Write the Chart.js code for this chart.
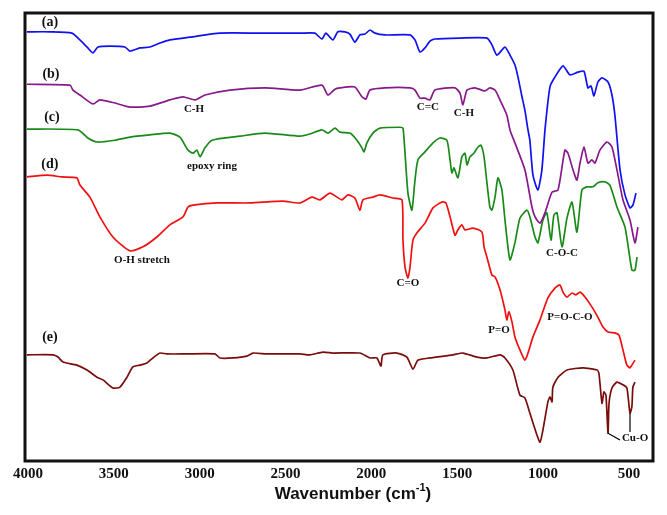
<!DOCTYPE html>
<html>
<head>
<meta charset="utf-8">
<script src="https://cdn.jsdelivr.net/npm/chart.js@4.4.1/dist/chart.umd.min.js"></script>
<style>
  html, body { margin: 0; padding: 0; background: #fff; }
  #wrap { width: 667px; height: 515px; }
</style>
</head>
<body>
<div id="wrap"><canvas id="ftir"></canvas></div>
<script>
// FTIR spectra, transmittance in arbitrary units (stacked traces)
const tickValues = [4000, 3500, 3000, 2500, 2000, 1500, 1000, 500];

// (a) blue
const wnA = [4006, 3872, 3744, 3697, 3651, 3621, 3592, 3522, 3435, 3406, 3348, 3290, 3231, 3173, 3057, 2882, 2649, 2416, 2329, 2288, 2265, 2224, 2195, 2154, 2125, 2096, 2067, 2037, 2008, 1979, 1921, 1775, 1746, 1717, 1688, 1659, 1630, 1484, 1327, 1298, 1269, 1222, 1193, 1164, 1146, 1123, 1106, 1088, 1077, 1059, 1030, 1007, 989, 960, 931, 884, 844, 797, 762, 739, 721, 704, 681, 657, 622, 599, 582, 552, 523, 494, 477, 459];
const tA = [95.8, 95.8, 95.5, 94.0, 92.2, 91.1, 92.4, 92.6, 92.4, 91.5, 92.2, 92.4, 93.3, 94.0, 94.6, 95.5, 95.5, 95.5, 95.5, 94.2, 95.5, 94.0, 95.8, 95.8, 95.3, 93.5, 95.1, 95.3, 96.2, 95.5, 95.1, 95.1, 94.0, 91.3, 92.2, 93.7, 94.2, 94.4, 94.4, 92.9, 90.6, 92.4, 90.6, 88.4, 85.7, 81.3, 78.3, 73.9, 71.6, 63.8, 60.5, 65.0, 73.9, 83.5, 85.7, 88.2, 86.2, 86.8, 87.0, 83.3, 83.7, 81.5, 84.6, 85.5, 84.6, 81.7, 77.2, 65.0, 59.4, 56.5, 57.1, 59.8];

// (b) purple
const wnB = [4006, 3755, 3738, 3697, 3621, 3581, 3493, 3406, 3290, 3173, 3097, 3027, 2969, 2824, 2620, 2416, 2288, 2253, 2212, 2183, 2096, 2055, 2032, 2008, 1921, 1775, 1746, 1717, 1688, 1659, 1630, 1513, 1484, 1467, 1443, 1397, 1339, 1310, 1280, 1251, 1211, 1193, 1164, 1106, 1065, 1047, 1018, 989, 948, 913, 873, 855, 826, 803, 785, 762, 739, 716, 698, 669, 628, 599, 570, 535, 494, 465, 448];
const tB = [84.1, 83.9, 82.8, 81.7, 79.7, 80.6, 79.9, 79.0, 79.2, 80.6, 81.3, 80.6, 81.7, 82.8, 83.3, 82.8, 83.9, 81.7, 83.0, 83.3, 83.5, 81.3, 80.8, 82.8, 83.3, 83.3, 82.8, 81.0, 81.0, 80.6, 82.8, 83.3, 82.1, 79.5, 82.8, 83.3, 82.6, 83.3, 82.8, 80.6, 77.2, 73.9, 71.0, 65.0, 56.7, 54.5, 53.1, 55.4, 60.0, 60.5, 69.4, 68.7, 65.0, 62.7, 66.5, 70.1, 66.5, 67.2, 66.5, 69.4, 71.2, 70.1, 65.0, 58.3, 53.8, 48.7, 52.2];

// (c) green
const wnC = [4006, 3709, 3651, 3598, 3493, 3406, 3290, 3173, 3115, 3068, 3039, 3016, 2998, 2969, 2928, 2765, 2620, 2416, 2358, 2288, 2253, 2212, 2183, 2125, 2084, 2055, 2043, 2026, 1991, 1950, 1834, 1816, 1804, 1787, 1764, 1746, 1729, 1688, 1641, 1601, 1560, 1542, 1531, 1519, 1496, 1473, 1455, 1443, 1426, 1403, 1379, 1362, 1344, 1327, 1310, 1298, 1280, 1263, 1240, 1222, 1193, 1164, 1135, 1094, 1077, 1047, 1030, 1001, 978, 954, 937, 919, 890, 861, 832, 803, 774, 745, 710, 681, 640, 611, 570, 523, 483, 465, 453];
const tC = [74.1, 73.9, 72.1, 71.2, 71.6, 72.3, 72.8, 73.2, 72.3, 69.4, 68.7, 69.4, 67.9, 69.9, 71.6, 72.5, 73.2, 72.5, 73.0, 73.9, 73.2, 74.3, 73.4, 73.2, 71.6, 69.9, 69.0, 71.0, 73.2, 74.3, 74.5, 74.3, 68.7, 59.8, 56.0, 62.7, 67.2, 69.0, 71.0, 72.1, 71.6, 67.2, 64.3, 65.4, 63.2, 67.9, 68.7, 66.1, 67.9, 68.7, 70.1, 70.5, 67.9, 62.1, 56.7, 56.0, 58.9, 63.2, 60.5, 53.8, 44.9, 48.7, 54.2, 56.0, 54.5, 50.0, 48.7, 53.8, 55.4, 49.3, 54.9, 55.4, 47.8, 54.2, 57.8, 51.1, 60.5, 61.2, 61.2, 62.1, 62.3, 61.6, 56.7, 52.2, 42.6, 42.6, 45.5];

// (d) red
const wnD = [4006, 3889, 3802, 3715, 3697, 3639, 3581, 3505, 3406, 3330, 3249, 3173, 3097, 3068, 3039, 2899, 2707, 2515, 2416, 2346, 2300, 2241, 2200, 2171, 2136, 2096, 2067, 2049, 1991, 1950, 1874, 1822, 1816, 1804, 1787, 1775, 1758, 1735, 1688, 1641, 1589, 1566, 1542, 1513, 1496, 1473, 1455, 1408, 1356, 1344, 1327, 1298, 1280, 1251, 1222, 1211, 1199, 1181, 1164, 1135, 1106, 1088, 1059, 1018, 972, 931, 902, 884, 861, 832, 809, 785, 756, 716, 681, 651, 622, 582, 558, 535, 512, 494, 483, 465];
const tD = [63.4, 63.8, 63.4, 63.2, 61.6, 58.9, 54.5, 50.0, 46.9, 47.8, 50.0, 52.7, 54.5, 56.7, 57.1, 57.6, 57.6, 58.0, 57.6, 58.9, 58.3, 59.8, 58.9, 58.3, 59.4, 58.7, 56.0, 58.3, 58.9, 59.4, 58.7, 58.3, 49.3, 43.3, 40.8, 43.3, 49.3, 50.9, 53.1, 56.5, 57.8, 57.6, 54.5, 50.4, 51.6, 52.7, 51.6, 52.0, 51.1, 47.8, 45.5, 41.5, 41.1, 38.2, 33.7, 31.5, 33.3, 31.0, 27.7, 24.8, 22.5, 24.1, 27.7, 31.5, 36.4, 38.6, 39.3, 37.7, 36.6, 37.5, 37.1, 37.7, 36.6, 34.4, 32.1, 29.9, 28.8, 28.6, 28.1, 24.8, 21.4, 20.8, 21.4, 22.5];

// (e) dark red
const wnE = [4006, 3854, 3825, 3796, 3715, 3656, 3598, 3563, 3505, 3464, 3423, 3389, 3348, 3307, 3272, 3231, 3191, 3074, 2911, 2882, 2806, 2725, 2690, 2608, 2416, 2358, 2282, 2224, 2067, 2008, 1968, 1944, 1933, 1851, 1793, 1758, 1729, 1659, 1525, 1467, 1385, 1327, 1251, 1222, 1176, 1135, 1106, 1077, 1036, 1018, 1001, 972, 960, 948, 943, 913, 861, 768, 686, 675, 657, 646, 634, 622, 616, 599, 570, 535, 512, 494, 483, 477, 465];
const tE = [23.7, 23.7, 23.2, 22.1, 21.4, 20.3, 18.7, 18.1, 16.3, 16.5, 18.7, 21.0, 21.4, 21.9, 23.0, 24.1, 23.9, 23.9, 23.9, 23.0, 23.0, 23.4, 24.1, 23.9, 23.9, 23.7, 24.3, 24.1, 24.1, 23.0, 23.0, 21.2, 23.7, 24.1, 23.2, 20.5, 22.5, 23.0, 23.7, 24.1, 23.2, 23.0, 23.7, 23.0, 20.3, 14.7, 14.1, 10.7, 5.8, 4.2, 6.9, 13.2, 14.3, 13.2, 16.5, 18.7, 20.3, 20.8, 20.3, 19.6, 12.9, 15.4, 14.7, 6.2, 12.9, 16.3, 17.6, 17.0, 16.3, 10.7, 12.1, 16.5, 17.6];

const traceNames = ['(a)', '(b)', '(c)', '(d)', '(e)'];
const traceColors = ['#1010f0', '#87198a', '#198a19', '#f01010', '#7a0c0c'];

// labels: [text, wavenumber, value]
const traceLabels = [['(a)', 3872, 98.0], ['(b)', 3866, 86.4], ['(c)', 3860, 76.8], ['(d)', 3872, 66.1], ['(e)', 3872, 27.5]];
const bandLabels = [
  ['C-H', 3033, 78.6], ['epoxy ring', 2928, 65.8], ['O-H stretch', 3336, 44.9],
  ['C=C', 1671, 79.0], ['C-H', 1461, 77.7], ['C=O', 1787, 39.7],
  ['C-O-C', 890, 46.4], ['P=O', 1257, 29.2], ['P=O-C-O', 844, 32.1]
];
const cuoLabel = ['Cu-O', 541, 5.1];
const cuoLeaders = [[[622, 6.2], [552, 4.7]], [[494, 10.7], [494, 6.5]]];

function pts(w, t) { return w.map((x, i) => ({ x, y: t[i] })); }
const series = [[wnA, tA], [wnB, tB], [wnC, tC], [wnD, tD], [wnE, tE]];

const textPlugin = {
  id: 'ftirText',
  afterDatasetsDraw(chart) {
    const { ctx, chartArea: a, scales: { x, y } } = chart;
    ctx.save();
    ctx.fillStyle = '#111';
    ctx.textAlign = 'center';
    ctx.textBaseline = 'middle';
    ctx.font = 'bold 14px "Liberation Serif", "Times New Roman", serif';
    traceLabels.forEach(([s, w, v]) => ctx.fillText(s, x.getPixelForValue(w), y.getPixelForValue(v)));
    ctx.font = 'bold 11px "Liberation Serif", "Times New Roman", serif';
    bandLabels.forEach(([s, w, v]) => ctx.fillText(s, x.getPixelForValue(w), y.getPixelForValue(v)));
    ctx.textAlign = 'left';
    ctx.fillText(cuoLabel[0], x.getPixelForValue(cuoLabel[1]), y.getPixelForValue(cuoLabel[2]));
    // leader lines for Cu-O
    ctx.strokeStyle = '#000';
    ctx.lineWidth = 1.2;
    cuoLeaders.forEach(([p, q]) => {
      ctx.beginPath();
      ctx.moveTo(x.getPixelForValue(p[0]), y.getPixelForValue(p[1]));
      ctx.lineTo(x.getPixelForValue(q[0]), y.getPixelForValue(q[1]));
      ctx.stroke();
    });
    // frame
    ctx.lineWidth = 3;
    ctx.strokeStyle = '#111';
    ctx.strokeRect(a.left, a.top, a.right - a.left, a.bottom - a.top);
    // axis title with superscript
    const cx = (a.left + a.right) / 2 + 14;
    const ty = 494;
    ctx.textBaseline = 'middle';
    ctx.font = 'bold 17px "Liberation Sans", Arial, sans-serif';
    const t1 = 'Wavenumber (cm', t3 = ')';
    const w1 = ctx.measureText(t1).width, w3 = ctx.measureText(t3).width;
    ctx.font = 'bold 11px "Liberation Sans", Arial, sans-serif';
    const t2 = '-1';
    const w2 = ctx.measureText(t2).width;
    let sx = cx - (w1 + w2 + w3) / 2;
    ctx.textAlign = 'left';
    ctx.font = 'bold 17px "Liberation Sans", Arial, sans-serif';
    ctx.fillText(t1, sx, ty);
    ctx.font = 'bold 11px "Liberation Sans", Arial, sans-serif';
    ctx.fillText(t2, sx + w1, ty - 6);
    ctx.font = 'bold 17px "Liberation Sans", Arial, sans-serif';
    ctx.fillText(t3, sx + w1 + w2, ty);
    ctx.restore();
  }
};

new Chart(document.getElementById('ftir'), {
  type: 'line',
  data: {
    datasets: series.map(([w, t], i) => ({
      label: traceNames[i],
      data: pts(w, t),
      borderColor: traceColors[i],
      borderWidth: 1.7,
      pointRadius: 0,
      tension: 0.2,
      fill: false
    }))
  },
  options: {
    responsive: true,
    maintainAspectRatio: false,
    animation: false,
    layout: { padding: { left: 25, top: 13, right: 14, bottom: 0 } },
    plugins: { legend: { display: false }, tooltip: { enabled: false } },
    scales: {
      x: {
        type: 'linear',
        reverse: true,
        min: 360,
        max: 4017,
        afterBuildTicks: s => { s.ticks = tickValues.map(v => ({ value: v })); },
        afterFit: s => { s.height = 54; },
        grid: { display: false, drawTicks: false, tickLength: 0 },
        border: { display: false },
        ticks: {
          color: '#111',
          padding: 4,
          maxRotation: 0,
          callback: v => String(v),
          font: { family: '"Liberation Serif", "Times New Roman", serif', size: 15, weight: 'bold' }
        }
      },
      y: { display: false, min: 0, max: 100 }
    }
  },
  plugins: [textPlugin]
});
</script>
</body>
</html>
